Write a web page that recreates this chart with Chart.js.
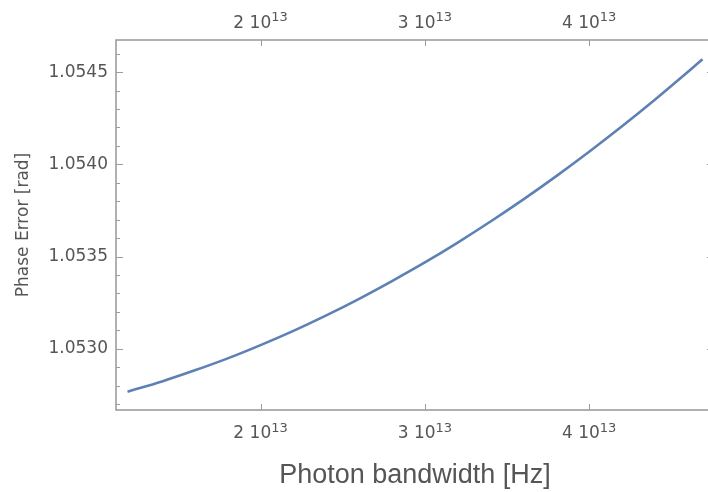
<!DOCTYPE html>
<html>
<head>
<meta charset="utf-8">
<script src="https://cdn.jsdelivr.net/npm/chart.js@4/dist/chart.umd.min.js"></script>
<style>
  html, body { margin: 0; padding: 0; overflow: hidden; background: #ffffff; }
  #wrap { position: absolute; left: 0; top: 0; width: 716px; height: 492px; }
</style>
</head>
<body>
<div id="wrap"><canvas id="c"></canvas></div>
<script>
// ---- data ----
const bandwidthHz = [1.19e13, 1.4e13, 1.6e13, 1.8e13, 2.0e13, 2.2e13, 2.4e13, 2.6e13, 2.8e13, 3.0e13,
                     3.2e13, 3.4e13, 3.6e13, 3.8e13, 4.0e13, 4.2e13, 4.4e13, 4.6e13, 4.69e13];
const phaseError = [1.052767, 1.052823, 1.052883, 1.052948, 1.053020, 1.053097, 1.053181, 1.053271, 1.053367, 1.053468,
                    1.053576, 1.053690, 1.053810, 1.053936, 1.054068, 1.054206, 1.054350, 1.054500, 1.054570];
const xMajorTicks = [2e13, 3e13, 4e13];
const xTickMantissa = ["2", "3", "4"];
const xTickExponent = "13";
const yMajorTicks = [1.0530, 1.0535, 1.0540, 1.0545];
const yMinorTicks = [1.0527, 1.0528, 1.0529, 1.0531, 1.0532, 1.0533, 1.0534, 1.0536, 1.0537, 1.0538, 1.0539,
                     1.0541, 1.0542, 1.0543, 1.0544, 1.0546];
const xTitle = "Photon bandwidth [Hz]";
const yTitle = "Phase Error [rad]";

const TICKFONT = "'DejaVu Sans', Verdana, sans-serif";
const TITLEFONT = "'Liberation Sans', Arial, Helvetica, sans-serif";
const TEXT = "#555555";
const FRAME = "#9d9d9d";

const framePlugin = {
  id: 'mmaFrame',
  afterDraw(chart) {
    const ctx = chart.ctx;
    const a = chart.chartArea;
    const xs = chart.scales.x, ys = chart.scales.y;
    ctx.save();
    ctx.strokeStyle = FRAME;
    ctx.lineWidth = 1.6;
    ctx.strokeRect(a.left, a.top, a.right - a.left, a.bottom - a.top);
    ctx.lineWidth = 1;
    ctx.beginPath();
    yMajorTicks.forEach(v => {
      const p = Math.round(ys.getPixelForValue(v)) + 0.5;
      ctx.moveTo(a.left, p); ctx.lineTo(a.left + 7, p);
      ctx.moveTo(a.right, p); ctx.lineTo(a.right - 7, p);
    });
    yMinorTicks.forEach(v => {
      const p = Math.round(ys.getPixelForValue(v)) + 0.5;
      ctx.moveTo(a.left, p); ctx.lineTo(a.left + 4, p);
      ctx.moveTo(a.right, p); ctx.lineTo(a.right - 4, p);
    });
    xMajorTicks.forEach(v => {
      const p = Math.round(xs.getPixelForValue(v)) + 0.5;
      ctx.moveTo(p, a.bottom); ctx.lineTo(p, a.bottom - 6);
      ctx.moveTo(p, a.top); ctx.lineTo(p, a.top + 6);
    });
    ctx.stroke();

    // x tick labels, bottom and top: "m 10^13"
    ctx.fillStyle = TEXT;
    ctx.textBaseline = 'alphabetic';
    ctx.textAlign = 'left';
    const mainFont = "17px " + TICKFONT, supFont = "13px " + TICKFONT;
    xMajorTicks.forEach((v, i) => {
      const p = xs.getPixelForValue(v);
      ctx.font = mainFont;
      const m = xTickMantissa[i] + " 10";
      const wm = ctx.measureText(m).width;
      ctx.font = supFont;
      const we = ctx.measureText(xTickExponent).width;
      const x0 = p - (wm + we) / 2;
      [[438, 431.5], [28, 21]].forEach(([b, s]) => {
        ctx.font = mainFont;
        ctx.fillText(m, x0, b);
        ctx.font = supFont;
        ctx.fillText(xTickExponent, x0 + wm, s);
      });
    });

    // axis titles
    ctx.font = "27px " + TITLEFONT;
    ctx.textAlign = 'center';
    ctx.fillText(xTitle, (a.left + a.right) / 2, 483);
    ctx.save();
    ctx.translate(24, (a.top + a.bottom) / 2);
    ctx.rotate(-Math.PI / 2);
    ctx.font = "17px " + TICKFONT;
    ctx.textBaseline = 'middle';
    ctx.fillText(yTitle, 0, 0);
    ctx.restore();
    ctx.restore();
  }
};

new Chart(document.getElementById('c'), {
  type: 'line',
  data: {
    datasets: [{
      data: bandwidthHz.map((x, i) => ({ x: x, y: phaseError[i] })),
      borderColor: '#5E81B5',
      borderWidth: 2.6,
      pointRadius: 0,
      fill: false,
      cubicInterpolationMode: 'monotone'
    }]
  },
  options: {
    responsive: true,
    maintainAspectRatio: false,
    devicePixelRatio: 1,
    animation: false,
    layout: { padding: { top: 40, right: 2, bottom: 82, left: 0 } },
    plugins: { legend: { display: false }, tooltip: { enabled: false } },
    scales: {
      x: {
        type: 'linear',
        min: 1.12e13,
        max: 4.76e13,
        display: false
      },
      y: {
        type: 'linear',
        position: 'left',
        min: 1.052668,
        max: 1.054674,
        grid: { display: false, drawTicks: false },
        border: { display: false },
        afterBuildTicks: s => { s.ticks = yMajorTicks.map(v => ({ value: v })); },
        afterFit: s => { s.width = 116; },
        ticks: {
          autoSkip: false,
          padding: 8,
          color: TEXT,
          font: { family: TICKFONT, size: 17 },
          callback: v => Number(v).toFixed(4)
        }
      }
    }
  },
  plugins: [framePlugin]
});
</script>
</body>
</html>
